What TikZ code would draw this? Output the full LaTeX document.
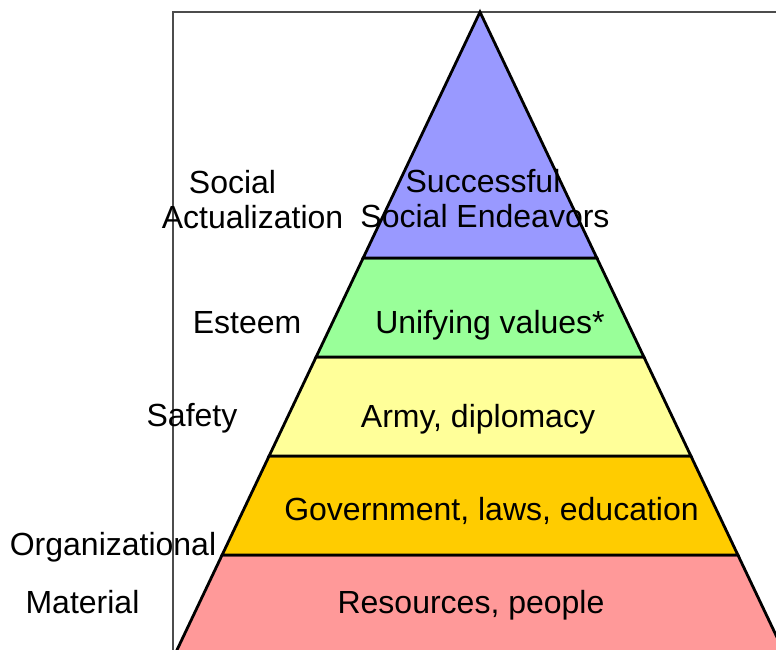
\documentclass[tikz,border=0pt]{standalone}
\usepackage{fontspec}
\setmainfont{Liberation Sans}
\begin{document}
\begin{tikzpicture}[x=1pt,y=-1pt,
  band/.style={draw=black,line width=2.8pt,line join=miter},
  frameline/.style={draw=black!70,line width=1.2pt},
  lbl/.style={inner sep=0pt,anchor=base,font=\fontsize{32}{35}\selectfont}]
\useasboundingbox (0,0) rectangle (776,649);
\begin{scope}
\clip (0,0) rectangle (776,649);
% axis frame
\draw[frameline] (173,660) -- (173,12) -- (790,12);
% pyramid bands, bottom to top
\path[band,fill={rgb,255:red,255;green,153;blue,153}] (222.1,555) -- (737.9,555) -- (787.8,660) -- (172.2,660) -- cycle;
\path[band,fill={rgb,255:red,255;green,204;blue,0}] (269.1,456) -- (690.9,456) -- (737.9,555) -- (222.1,555) -- cycle;
\path[band,fill={rgb,255:red,255;green,255;blue,153}] (316.1,357) -- (643.9,357) -- (690.9,456) -- (269.1,456) -- cycle;
\path[band,fill={rgb,255:red,153;green,255;blue,153}] (363.15,258) -- (596.85,258) -- (643.9,357) -- (316.1,357) -- cycle;
\path[band,fill={rgb,255:red,153;green,153;blue,255}] (480,12) -- (596.85,258) -- (363.15,258) -- cycle;
\end{scope}
% level contents
\node[lbl] (succ1) at (483,192) {Successful};
\node[lbl] (succ2) at (485,227) {Social Endeavors};
\node[lbl] (unify) at (490,333) {Unifying values*};
\node[lbl] (army) at (478,427) {Army, diplomacy};
\node[lbl] (gov) at (491.5,520) {Government, laws, education};
\node[lbl] (res) at (471,613) {Resources, people};
% level names
\node[lbl] (soc) at (232.5,193) {Social};
\node[lbl] (act) at (252.5,228) {Actualization};
\node[lbl] (est) at (247,333) {Esteem};
\node[lbl] (saf) at (192,426) {Safety};
\node[lbl] (org) at (113,555) {Organizational};
\node[lbl] (mat) at (82.5,613) {Material};
\end{tikzpicture}
\end{document}
